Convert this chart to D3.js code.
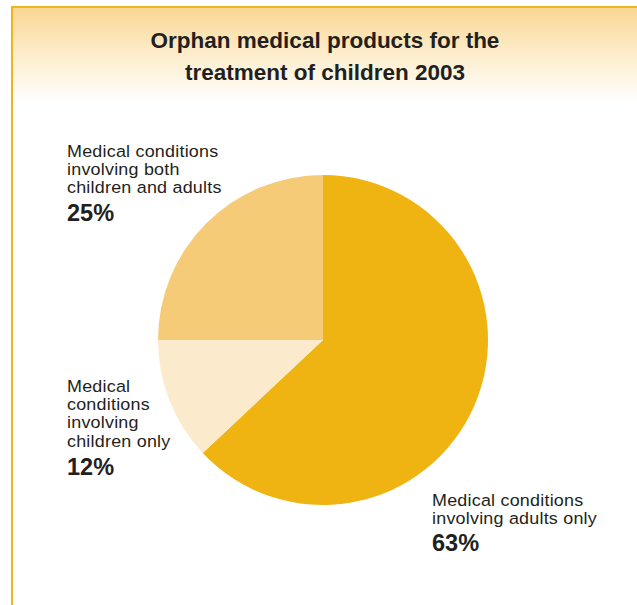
<!DOCTYPE html>
<html>
<head>
<meta charset="utf-8">
<script src="https://cdn.jsdelivr.net/npm/d3@7/dist/d3.min.js"></script>
<style>
  html, body { margin: 0; padding: 0; background: #fff; }
  svg { display: block; }
  text { font-family: "Liberation Sans", Arial, Helvetica, sans-serif; fill: #231f20; }
</style>
</head>
<body>
<svg id="chart" width="637" height="605"></svg>
<script>
// Share of orphan medical products, by patient group (2003)
const categories = ["Medical conditions involving adults only",
                    "Medical conditions involving children only",
                    "Medical conditions involving both children and adults"];
const shares = [63, 12, 25];
const percentLabels = ["63%", "12%", "25%"];
const labelLines = [
  ["Medical conditions", "involving adults only"],
  ["Medical", "conditions", "involving", "children only"],
  ["Medical conditions", "involving both", "children and adults"]
];
const sliceColors = ["#efb412", "#fbebcc", "#f5cb78"];
const titleLines = ["Orphan medical products for the", "treatment of children 2003"];

const W = 637, H = 605;
const svg = d3.select("#chart");

// panel background: soft header gradient
const defs = svg.append("defs");
const grad = defs.append("linearGradient")
  .attr("id", "headGrad").attr("x1", 0).attr("y1", 0).attr("x2", 0).attr("y2", 1);
grad.append("stop").attr("offset", "0%").attr("stop-color", "#f9d692");
grad.append("stop").attr("offset", "45%").attr("stop-color", "#fcebc6");
grad.append("stop").attr("offset", "100%").attr("stop-color", "#ffffff");

svg.append("rect").attr("x", 12).attr("y", 7).attr("width", W - 12).attr("height", 95)
  .attr("fill", "url(#headGrad)");

// panel border (top and left)
svg.append("path")
  .attr("d", `M12,${H} L12,7 L${W},7`)
  .attr("fill", "none").attr("stroke", "#f0b41c").attr("stroke-width", 2);

// title
const title = svg.append("text").attr("text-anchor", "middle")
  .style("font-weight", "bold").style("font-size", "22.5px");
titleLines.forEach((t, i) => {
  title.append("tspan").attr("x", 325).attr("y", 48 + i * 32).text(t);
});

// pie
const cx = 323, cy = 340, R = 165;
const pie = d3.pie().sort(null).value(d => d);
const arc = d3.arc().innerRadius(0).outerRadius(R);
const g = svg.append("g").attr("transform", `translate(${cx},${cy})`);
g.selectAll("path").data(pie(shares)).join("path")
  .attr("d", arc)
  .attr("fill", (d, i) => sliceColors[i]);

// slice labels: text block per slice (slightly widened face), bold percentage underneath
const labelPos = [
  { x: 432, y: 506, pctY: 551 },
  { x: 67, y: 392, pctY: 475 },
  { x: 67, y: 157, pctY: 221 }
];
labelLines.forEach((lines, i) => {
  const p = labelPos[i];
  const t = svg.append("text")
    .attr("transform", `translate(${p.x},0) scale(1.1,1)`)
    .style("font-size", "16.3px").style("letter-spacing", "0.2px");
  lines.forEach((line, j) => {
    t.append("tspan").attr("x", 0).attr("y", p.y + j * 18.2).text(line);
  });
  svg.append("text").attr("x", p.x).attr("y", p.pctY)
    .style("font-size", "23.5px").style("font-weight", "bold")
    .text(percentLabels[i]);
});
</script>
</body>
</html>
